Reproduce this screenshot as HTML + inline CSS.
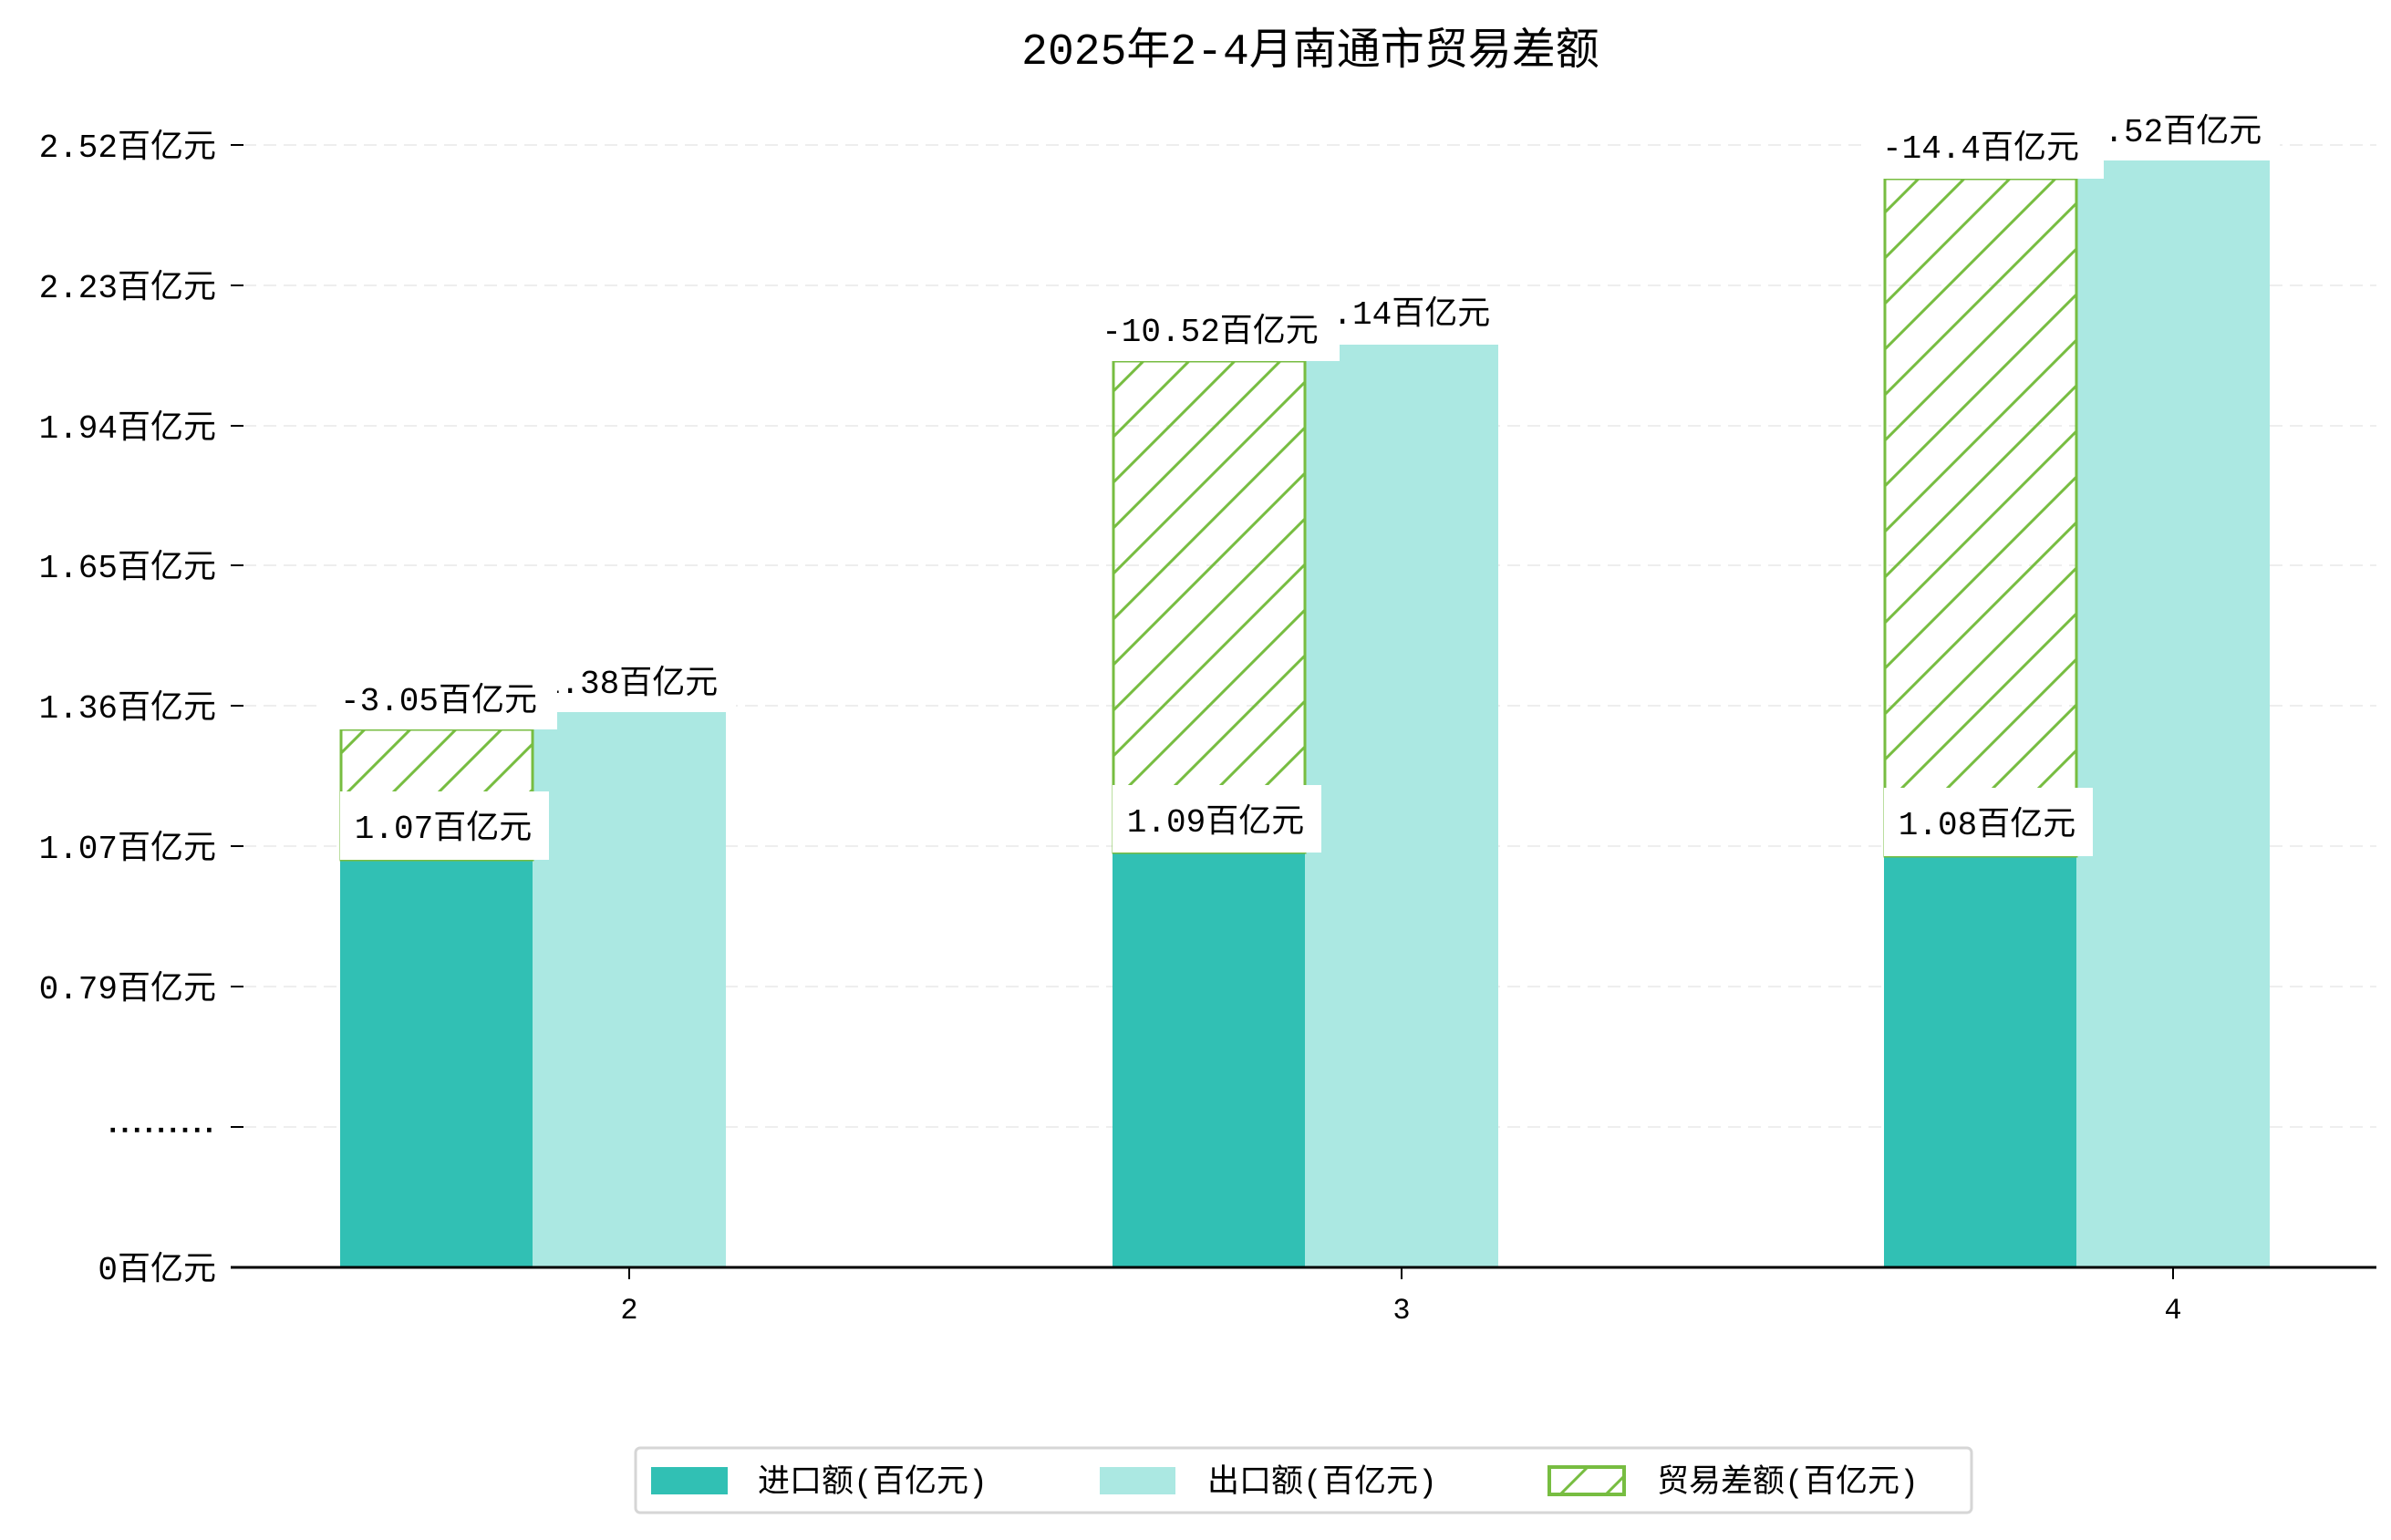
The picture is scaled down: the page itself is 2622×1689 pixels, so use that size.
<!DOCTYPE html>
<html><head><meta charset="utf-8"><style>
html,body{margin:0;padding:0;background:#fff;}
svg{display:block;}
text{font-family:"Liberation Mono","Noto Sans CJK SC",monospace;fill:#000;}
</style></head><body>
<svg width="2622" height="1689" viewBox="0 0 2622 1689" xmlns="http://www.w3.org/2000/svg">
<defs>
<pattern id="h" patternUnits="userSpaceOnUse" width="50" height="50">
<line x1="-5" y1="55" x2="55" y2="-5" stroke="#77bd41" stroke-width="3"/>
<line x1="-30" y1="30" x2="30" y2="-30" stroke="#77bd41" stroke-width="3"/>
<line x1="20" y1="80" x2="80" y2="20" stroke="#77bd41" stroke-width="3"/>
</pattern>
</defs>
<text x="1437" y="70" font-size="48" text-anchor="middle">2025年2-4月南通市贸易差额</text>
<g stroke="#eeeeee" stroke-width="2" stroke-dasharray="14,8">
<line x1="267" y1="159" x2="2606" y2="159"/>
<line x1="267" y1="313" x2="2606" y2="313"/>
<line x1="267" y1="467" x2="2606" y2="467"/>
<line x1="267" y1="620" x2="2606" y2="620"/>
<line x1="267" y1="774" x2="2606" y2="774"/>
<line x1="267" y1="928" x2="2606" y2="928"/>
<line x1="267" y1="1082" x2="2606" y2="1082"/>
<line x1="267" y1="1236" x2="2606" y2="1236"/>
</g>
<g stroke="#000" stroke-width="2">
<line x1="253" y1="159" x2="267" y2="159"/>
<line x1="253" y1="313" x2="267" y2="313"/>
<line x1="253" y1="467" x2="267" y2="467"/>
<line x1="253" y1="620" x2="267" y2="620"/>
<line x1="253" y1="774" x2="267" y2="774"/>
<line x1="253" y1="928" x2="267" y2="928"/>
<line x1="253" y1="1082" x2="267" y2="1082"/>
<line x1="253" y1="1236" x2="267" y2="1236"/>
</g>
<g font-size="36" text-anchor="end">
<text x="237" y="172">2.52百亿元</text>
<text x="237" y="326">2.23百亿元</text>
<text x="237" y="480">1.94百亿元</text>
<text x="237" y="633">1.65百亿元</text>
<text x="237" y="787">1.36百亿元</text>
<text x="237" y="941">1.07百亿元</text>
<text x="237" y="1095">0.79百亿元</text>
<text x="237" y="1403">0百亿元</text>
</g>
<text x="236" y="1241" font-size="22" font-weight="bold" text-anchor="end" stroke="#000" stroke-width="1.5">.........</text>
<!-- bars -->
<rect x="373" y="943" width="211" height="447" fill="#31c0b4"/>
<rect x="584" y="781" width="212" height="609" fill="#abe8e2"/>
<rect x="374" y="800" width="210" height="143" fill="url(#h)" stroke="#77bd41" stroke-width="3"/>
<rect x="1220" y="935" width="211" height="455" fill="#31c0b4"/>
<rect x="1431" y="378" width="212" height="1012" fill="#abe8e2"/>
<rect x="1221" y="396" width="210" height="539" fill="url(#h)" stroke="#77bd41" stroke-width="3"/>
<rect x="2066" y="939" width="211" height="451" fill="#31c0b4"/>
<rect x="2277" y="176" width="212" height="1214" fill="#abe8e2"/>
<rect x="2067" y="196" width="210" height="743" fill="url(#h)" stroke="#77bd41" stroke-width="3"/>
<g font-size="36" text-anchor="middle">
<rect x="575" y="720" width="232" height="58" fill="#fff"/>
<text x="690" y="760">1.38百亿元</text>
<rect x="1421" y="316" width="232" height="58" fill="#fff"/>
<text x="1537" y="355">2.14百亿元</text>
<rect x="2268" y="116" width="232" height="58" fill="#fff"/>
<text x="2383" y="155">2.52百亿元</text>
<rect x="355" y="728" width="256" height="72" fill="#fff"/>
<text x="481" y="779">-3.05百亿元</text>
<rect x="1193" y="325" width="276" height="71" fill="#fff"/>
<text x="1327" y="374">-10.52百亿元</text>
<rect x="2045" y="125" width="262" height="71" fill="#fff"/>
<text x="2172" y="173">-14.4百亿元</text>
<rect x="373" y="868" width="229" height="75" fill="#fff"/>
<text x="486" y="919">1.07百亿元</text>
<rect x="1220" y="861" width="229" height="74" fill="#fff"/>
<text x="1333" y="912">1.09百亿元</text>
<rect x="2066" y="864" width="229" height="75" fill="#fff"/>
<text x="2179" y="915">1.08百亿元</text>
</g>
<line x1="253" y1="1390" x2="2606" y2="1390" stroke="#000" stroke-width="3"/>
<g stroke="#000" stroke-width="2">
<line x1="690" y1="1390" x2="690" y2="1403"/>
<line x1="1537" y1="1390" x2="1537" y2="1403"/>
<line x1="2383" y1="1390" x2="2383" y2="1403"/>
</g>
<g font-size="32" text-anchor="middle">
<text x="690" y="1446">2</text>
<text x="1537" y="1446">3</text>
<text x="2383" y="1446">4</text>
</g>
<rect x="697" y="1588" width="1465" height="71" rx="5" fill="#fff" stroke="#d6d6d6" stroke-width="3"/>
<rect x="714" y="1609" width="84" height="30" fill="#31c0b4"/>
<rect x="1206" y="1609" width="83" height="30" fill="#abe8e2"/>
<rect x="1699" y="1609" width="82" height="30" fill="url(#h)" stroke="#77bd41" stroke-width="4"/>
<g font-size="35">
<text x="831" y="1636">进口额(百亿元)</text>
<text x="1324" y="1636">出口额(百亿元)</text>
<text x="1817" y="1636">贸易差额(百亿元)</text>
</g>
</svg>
</body></html>
